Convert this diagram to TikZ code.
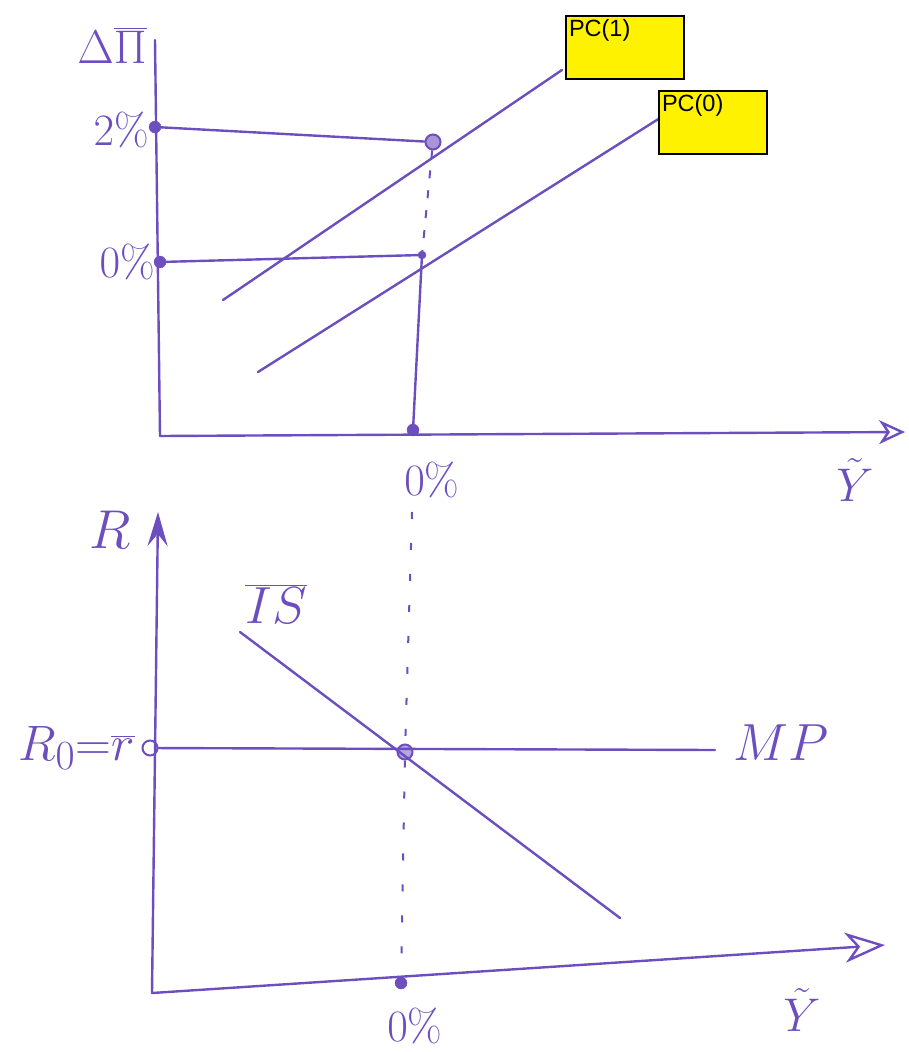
\documentclass[tikz,border=0pt]{standalone}
\usepackage{fontspec}
\newfontfamily\arialfont{Liberation Sans}
\usetikzlibrary{arrows.meta}
\definecolor{pen}{RGB}{108,78,190}
\newcommand{\hw}[2]{\scalebox{#1}{$#2$}}
\begin{document}
\begin{tikzpicture}[x=1pt,y=-1pt,
  pen/.style={draw=pen,line width=2.4pt,line cap=round},
  dashpen/.style={draw=pen,line width=2pt,dash pattern=on 7pt off 24pt},
  xarrow/.style={pen,-{Stealth[length=26pt,width=24pt,open,inset=8pt,line width=2.4pt]}},
  yarrow/.style={pen,-{Stealth[length=34pt,width=20pt,inset=12pt,line width=2.4pt]}},
  dot/.style={circle,fill=pen,draw=pen,inner sep=0pt,minimum size=12pt},
  odot/.style={circle,draw=pen,line width=2pt,inner sep=0pt,minimum size=15pt},
  hand/.style={text=pen,inner sep=1pt,font=\fontsize{24.88}{30}\selectfont},
  pcbox/.style={draw=black,line width=2pt,fill=yellow,inner xsep=3pt,inner ysep=2pt,
    text width=#1,text height=18pt,text depth=41pt,align=left,anchor=north west,
    font=\arialfont\fontsize{23.5}{26}\selectfont}]
\useasboundingbox (0,0) rectangle (909,1052);
% ---------- top panel ----------
\coordinate (tOrig) at (160,436);
\coordinate (tTop) at (155,40);
\coordinate (tEnd) at (905,432);
\draw[pen] (tTop) -- (tOrig);
\draw[xarrow] (tOrig) -- (tEnd);
\node[hand] (dpi) at (112,45) {\hw{1.9}{\Delta\overline{\Pi}}};
\node[hand] (ytop) at (855,480) {\hw{1.9}{\tilde{Y}}};
\node[dot] (d2) at (155,127) {};
\node[dot] (d0) at (160,262) {};
\node[hand,anchor=east] (l2) at (150,130) {\hw{1.8}{2\%}};
\node[hand,anchor=east] (l0) at (156,262) {\hw{1.8}{0\%}};
\node[odot,fill=pen!60] (e1) at (433,142) {};
\node[dot,minimum size=8pt] (e0) at (422,255) {};
\node[dot] (ex) at (413,430) {};
\node[hand] (x0top) at (432,480) {\hw{1.8}{0\%}};
\draw[pen] (d2) -- (e1);
\draw[pen] (d0) -- (e0);
\draw[dashpen,dash pattern=on 8pt off 12pt] (e1) -- (e0);
\draw[pen] (e0) -- (ex);
\coordinate (pc1s) at (223,300);
\coordinate (pc1e) at (562,70);
\coordinate (pc0s) at (258,372);
\coordinate (pc0e) at (660,118);
\draw[pen] (pc1s) -- (pc1e);
\draw[pen] (pc0s) -- (pc0e);
\node[pcbox=112pt] (pc1) at (565,15) {PC(1)};
\node[pcbox=102pt] (pc0) at (658,90) {PC(0)};
% ---------- bottom panel ----------
\coordinate (bOrig) at (152,993);
\coordinate (bTop) at (158,512);
\coordinate (bEnd) at (885,945);
\draw[yarrow] (bOrig) -- (bTop);
\draw[xarrow,-{Stealth[length=40pt,width=30pt,open,inset=12pt,line width=2.4pt]}] (bOrig) -- (bEnd);
\node[hand] (rlab) at (110,530) {\hw{2.2}{R}};
\node[hand] (ybot) at (802,1010) {\hw{1.9}{\tilde{Y}}};
\node[odot] (r0) at (150,748) {};
\node[hand,anchor=east] (r0lab) at (136,748) {\hw{2}{R_{0}{=}\overline{r}}};
\coordinate (mpe) at (715,750);
\node[hand,anchor=west] (mplab) at (732,743) {\hw{2.1}{MP}};
\coordinate (iss) at (240,632);
\coordinate (ise) at (620,918);
\node[hand] (islab) at (276,604) {\hw{2.1}{\overline{IS}}};
\node[odot,fill=pen!50] (eq) at (405,752) {};
\node[dot] (bx) at (401,983) {};
\node[hand] (x0bot) at (415,1026) {\hw{1.8}{0\%}};
\draw[pen] (r0) -- (mpe);
\draw[pen] (iss) -- (ise);
\coordinate (dtop) at (412,512);
\draw[dashpen] (dtop) -- (eq);
\draw[dashpen] (eq) -- (bx);
\end{tikzpicture}
\end{document}
